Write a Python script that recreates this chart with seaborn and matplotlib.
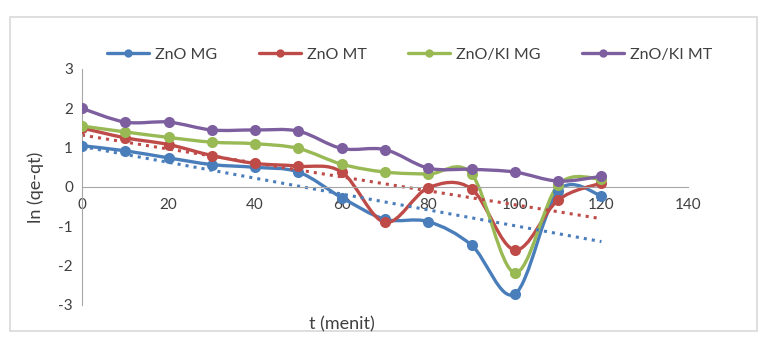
import matplotlib
matplotlib.use("Agg")
from matplotlib import pyplot as plt
from matplotlib.path import Path
from matplotlib.lines import Line2D
import matplotlib.patches as mpatches
import seaborn as sns
import pandas as pd

t = [0, 10, 20, 30, 40, 50, 60, 70, 80, 90, 100, 110, 120]
zno_mg = [1.05, 0.92, 0.74, 0.57, 0.50, 0.38, -0.27, -0.82, -0.88, -1.48, -2.72, -0.10, -0.22]
zno_mt = [1.50, 1.25, 1.08, 0.80, 0.60, 0.53, 0.38, -0.90, -0.02, -0.05, -1.60, -0.33, 0.10]
znoki_mg = [1.55, 1.40, 1.26, 1.14, 1.10, 0.98, 0.58, 0.38, 0.33, 0.33, -2.18, 0.05, 0.20]
znoki_mt = [2.00, 1.65, 1.65, 1.45, 1.45, 1.42, 0.98, 0.95, 0.48, 0.45, 0.38, 0.15, 0.27]

names = ["ZnO MG", "ZnO MT", "ZnO/KI MG", "ZnO/KI MT"]
colors = ["#4A7EBB", "#BE4B48", "#98B954", "#7D5FA0"]

df = pd.concat([
    pd.DataFrame({"t": t, "val": v, "series": n})
    for n, v in zip(names, [zno_mg, zno_mt, znoki_mg, znoki_mt])
])


def smooth_path(xs, ys):
    # excel-like "smoothed line": cubic bezier through the points
    pts = list(zip(xs, ys))
    verts = [pts[0]]
    codes = [Path.MOVETO]
    n = len(pts)
    for i in range(n - 1):
        p0 = pts[max(i - 1, 0)]
        p1 = pts[i]
        p2 = pts[i + 1]
        p3 = pts[min(i + 2, n - 1)]
        c1 = (p1[0] + (p2[0] - p0[0]) / 6, p1[1] + (p2[1] - p0[1]) / 6)
        c2 = (p2[0] - (p3[0] - p1[0]) / 6, p2[1] - (p3[1] - p1[1]) / 6)
        verts += [c1, c2, p2]
        codes += [Path.CURVE4] * 3
    return Path(verts, codes)


sns.set_style("white")
plt.rcParams["font.family"] = ["Lato", "DejaVu Sans"]
plt.rcParams["axes.unicode_minus"] = False

fig = plt.figure(figsize=(7.63, 3.64), dpi=100)
ax = fig.add_axes([82 / 763, 1 - 305 / 364, (688 - 82) / 763, (305 - 69) / 364])

# chart border
fig.patches.append(mpatches.Rectangle((10 / 763, 1 - 331 / 364), 747 / 763, 314 / 364,
                                      transform=fig.transFigure, fill=False,
                                      edgecolor="#d9d9d9", linewidth=1.2))

sns.lineplot(data=df, x="t", y="val", hue="series", palette=colors, marker="o",
             markersize=8, markeredgewidth=0, linewidth=2.4, ax=ax, legend=False)

# swap straight segments for smoothed curves
for line, c in zip(list(ax.lines), colors):
    xs, ys = line.get_xdata(), line.get_ydata()
    line.set_linestyle("none")
    line.set_zorder(3)
    ax.add_patch(mpatches.PathPatch(smooth_path(xs, ys), fill=False, edgecolor=c,
                                    linewidth=2.4, zorder=2, capstyle="round"))

# linear trendlines (dotted)
for n, c in zip(names[:2], colors[:2]):
    sns.regplot(data=df[df.series == n], x="t", y="val", scatter=False, ci=None,
                color=c, line_kws={"linestyle": ":", "linewidth": 2.2}, ax=ax)

ax.set_xlim(0, 140)
ax.set_ylim(-3, 3)
ax.set_xticks(range(0, 141, 20))
ax.set_yticks(range(-3, 4))
for s in ["top", "right"]:
    ax.spines[s].set_visible(False)
ax.spines["bottom"].set_position(("data", 0))
ax.spines["bottom"].set_color("#a6a6a6")
ax.spines["left"].set_color("#a6a6a6")
ax.tick_params(axis="both", length=3, color="#a6a6a6", labelsize=11, labelcolor="#404040",
               direction="out")
ax.tick_params(axis="x", pad=5)
ax.set_xlabel("")
ax.set_ylabel("")
fig.text(342 / 763, 1 - 324 / 364, "t (menit)", ha="center", va="center", fontsize=13, color="#404040")
fig.text(36 / 763, 1 - 187 / 364, "ln (qe-qt)", ha="center", va="center", rotation=90,
         fontsize=13, color="#404040")

handles = [Line2D([], [], color=c, marker="o", markersize=6, markeredgewidth=0, linewidth=2.4)
           for c in colors]
fig.legend(handles, names, ncol=4, frameon=False, loc="center",
           bbox_to_anchor=(410 / 763, 1 - 55 / 364),
           fontsize=11.5, handlelength=2.6, columnspacing=2.6, handletextpad=0.4,
           labelcolor="#404040")

fig.savefig("out.png", dpi=100)
